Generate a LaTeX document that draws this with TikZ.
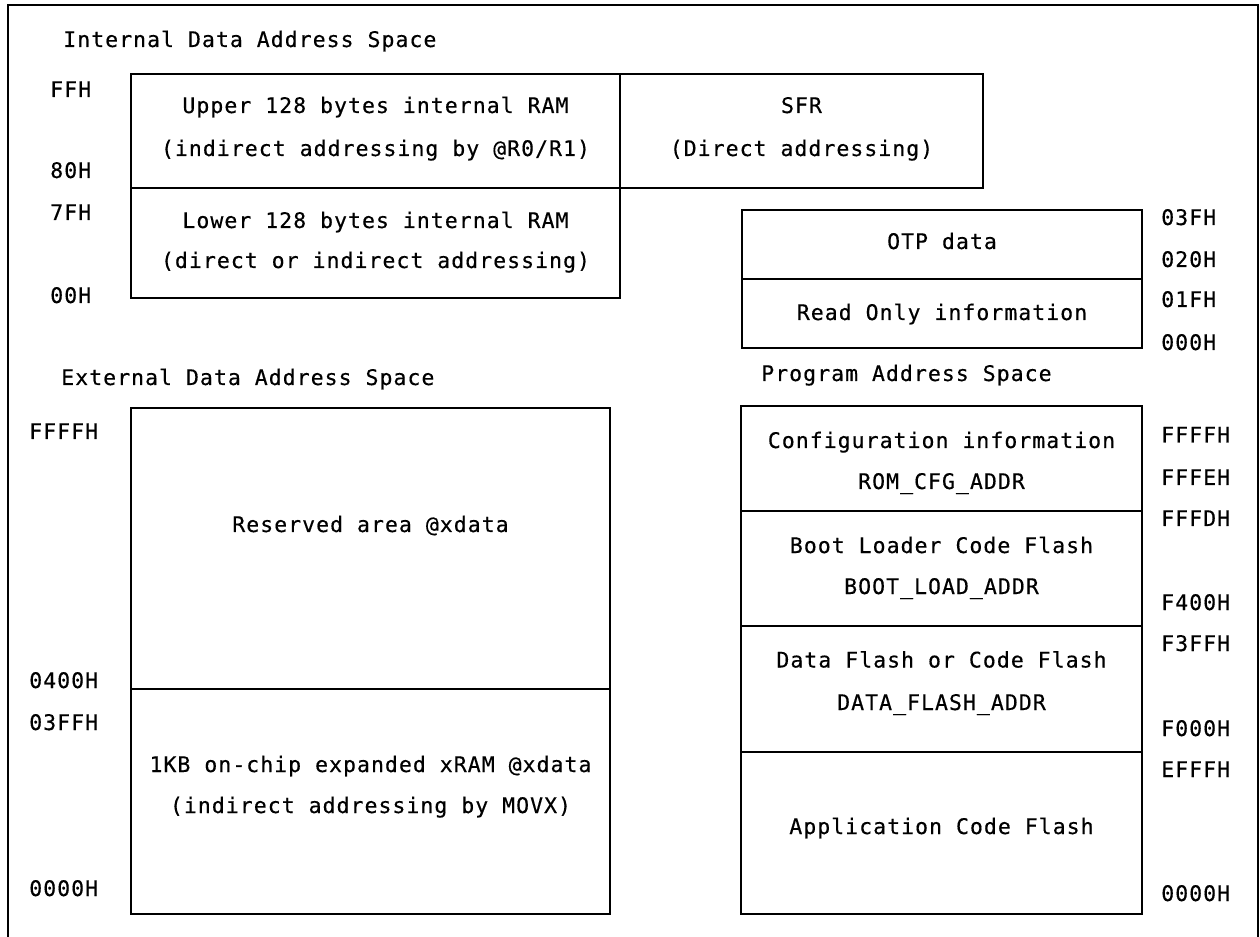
\documentclass[tikz,border=0pt]{standalone}
\usepackage{fontspec}
\setmonofont[LetterSpace=4.9,FakeBold=0.4]{DejaVu Sans Mono}
\begin{document}
\begin{tikzpicture}[x=0.75pt,y=-0.75pt,
  every node/.style={font=\ttfamily\fontsize{16.1pt}{19pt}\selectfont, inner sep=0pt, text=black},
  lbl/.style={anchor=base west},
  ctr/.style={anchor=base},
  box/.style={draw=black, line width=1.5pt},
  frame/.style={draw=black, line width=2pt}]
\useasboundingbox (0,0) rectangle (1260,937);
\fill[white] (0,0) rectangle (1260,937);
% outer frame (no bottom edge)
\draw[frame] (8,940) -- (8,5) -- (1258,5) -- (1258,940);

% ---------- Internal data address space ----------
\node[lbl] (tInt) at (63,47) {Internal Data Address Space};
\draw[box] (131,74) rectangle (620,188);
\draw[box] (131,188) rectangle (620,298);
\draw[box] (620,74) rectangle (983,188);
\node[ctr] (up1) at (375.5,113) {Upper 128 bytes internal RAM};
\node[ctr] (up2) at (375.5,156) {(indirect addressing by @R0/R1)};
\node[ctr] (lo1) at (375.5,228) {Lower 128 bytes internal RAM};
\node[ctr] (lo2) at (375.5,268) {(direct or indirect addressing)};
\node[ctr] (sfr1) at (801.5,113) {SFR};
\node[ctr] (sfr2) at (801.5,156) {(Direct addressing)};
\node[lbl] (aFFH) at (50,97) {FFH};
\node[lbl] (a80H) at (50,178) {80H};
\node[lbl] (a7FH) at (50,220) {7FH};
\node[lbl] (a00H) at (50,303) {00H};

% ---------- OTP ----------
\draw[box] (742,210) rectangle (1142,279);
\draw[box] (742,279) rectangle (1142,348);
\node[ctr] (otp) at (942,249) {OTP data};
\node[ctr] (roi) at (942,320) {Read Only information};
\node[lbl] (o03F) at (1161,225) {03FH};
\node[lbl] (o020) at (1161,267) {020H};
\node[lbl] (o01F) at (1161,307) {01FH};
\node[lbl] (o000) at (1161,350) {000H};

% ---------- External data address space ----------
\node[lbl] (tExt) at (61,385) {External Data Address Space};
\draw[box] (131,408) rectangle (610,689);
\draw[box] (131,689) rectangle (610,914);
\node[ctr] (res) at (370.5,532) {Reserved area @xdata};
\node[ctr] (xr1) at (370.5,772) {1KB on-chip expanded xRAM @xdata};
\node[ctr] (xr2) at (370.5,813) {(indirect addressing by MOVX)};
\node[lbl] (eFFFF) at (29,439) {FFFFH};
\node[lbl] (e0400) at (29,688) {0400H};
\node[lbl] (e03FF) at (29,730) {03FFH};
\node[lbl] (e0000) at (29,896) {0000H};

% ---------- Program address space ----------
\node[lbl] (tPrg) at (761,381) {Program Address Space};
\draw[box] (741,406) rectangle (1142,511);
\draw[box] (741,511) rectangle (1142,626);
\draw[box] (741,626) rectangle (1142,752);
\draw[box] (741,752) rectangle (1142,914);
\node[ctr] (cfg1) at (941.5,448) {Configuration information};
\node[ctr] (cfg2) at (941.5,489) {ROM\_CFG\_ADDR};
\node[ctr] (bl1) at (941.5,553) {Boot Loader Code Flash};
\node[ctr] (bl2) at (941.5,594) {BOOT\_LOAD\_ADDR};
\node[ctr] (df1) at (941.5,667.5) {Data Flash or Code Flash};
\node[ctr] (df2) at (941.5,710) {DATA\_FLASH\_ADDR};
\node[ctr] (app) at (941.5,834) {Application Code Flash};
\node[lbl] (pFFFF) at (1161,442.5) {FFFFH};
\node[lbl] (pFFFE) at (1161,485) {FFFEH};
\node[lbl] (pFFFD) at (1161,526) {FFFDH};
\node[lbl] (pF400) at (1161,610) {F400H};
\node[lbl] (pF3FF) at (1161,651) {F3FFH};
\node[lbl] (pF000) at (1161,736) {F000H};
\node[lbl] (pEFFF) at (1161,777) {EFFFH};
\node[lbl] (p0000) at (1161,901) {0000H};
\end{tikzpicture}
\end{document}
